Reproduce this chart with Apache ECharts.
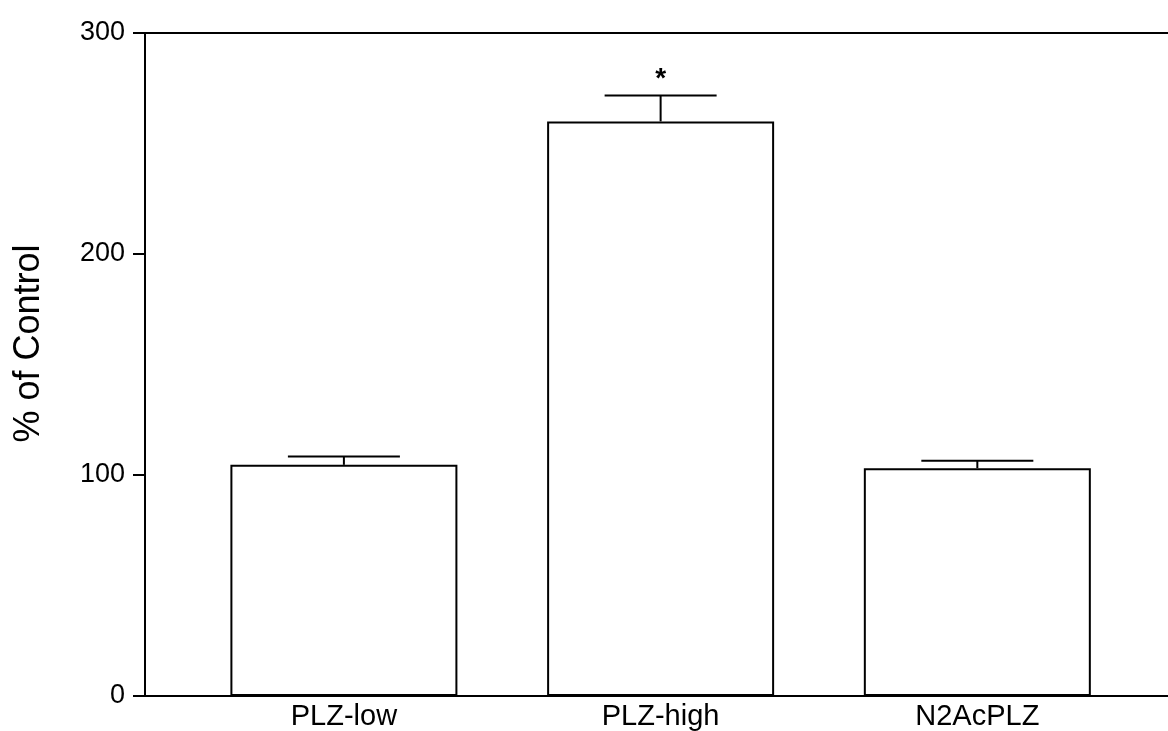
<!DOCTYPE html>
<html>
<head>
<meta charset="utf-8">
<script src="https://cdn.jsdelivr.net/npm/echarts@6/dist/echarts.min.js"></script>
<style>
  html, body { margin: 0; padding: 0; background: #fff; }
  #chart { width: 1168px; height: 731px; }
</style>
</head>
<body>
<div id="chart"></div>
<script>
// ---- data ----
const categories = ['PLZ-low', 'PLZ-high', 'N2AcPLZ'];
const values = [104.6, 260, 103.1];
const errors = [3.8, 11.7, 3.4];
const significance = ['', '*', ''];
const yTicks = [0, 100, 200, 300];
const yTitle = '% of Control';

const positions = categories.map((c, i) => i + 1);
const FONT = '"Liberation Sans", Arial, sans-serif';
const X_MIN = 0.372, X_MAX = 3.602;

const chart = echarts.init(document.getElementById('chart'), null, { renderer: 'canvas' });

const option = {
  animation: false,
  backgroundColor: '#ffffff',
  grid: { left: 145, right: 0, top: 33, bottom: 33, containLabel: false },
  xAxis: [
    {
      type: 'value',
      min: X_MIN,
      max: X_MAX,
      position: 'bottom',
      axisLine: { show: true, onZero: false, lineStyle: { color: '#000', width: 2 } },
      axisTick: { show: false },
      splitLine: { show: false },
      axisLabel: {
        customValues: positions,
        formatter: v => categories[Math.round(v) - 1] || '',
        color: '#000',
        fontFamily: FONT,
        fontSize: 29,
        margin: 6
      }
    },
    {
      type: 'value',
      min: X_MIN,
      max: X_MAX,
      position: 'top',
      axisLine: { show: true, onZero: false, lineStyle: { color: '#000', width: 2 } },
      axisTick: { show: false },
      axisLabel: { show: false },
      splitLine: { show: false }
    }
  ],
  yAxis: {
    type: 'value',
    min: yTicks[0],
    max: yTicks[yTicks.length - 1],
    interval: 100,
    axisLine: { show: true, onZero: false, lineStyle: { color: '#000', width: 2 } },
    axisTick: { show: true, inside: false, length: 12, lineStyle: { color: '#000', width: 2 } },
    splitLine: { show: false },
    axisLabel: {
      color: '#000',
      fontFamily: FONT,
      fontSize: 27,
      margin: 20,
      padding: [0, 0, 6, 0]
    },
    name: yTitle,
    nameLocation: 'middle',
    nameRotate: 90,
    nameGap: 98,
    nameTextStyle: { color: '#000', fontFamily: FONT, fontSize: 36, padding: [0, 0, 0, 42] }
  },
  series: [
    {
      type: 'bar',
      xAxisIndex: 0,
      barWidth: 227,
      data: values.map((v, i) => [positions[i], v]),
      itemStyle: { color: '#ffffff', borderColor: '#000', borderWidth: 2 },
      z: 2
    },
    {
      type: 'custom',
      xAxisIndex: 0,
      data: values.map((v, i) => [positions[i], v, v + errors[i], i]),
      renderItem: function (params, api) {
        const x = api.value(0);
        const base = api.coord([x, api.value(1)]);
        const top = api.coord([x, api.value(2)]);
        const idx = api.value(3);
        const half = 56;
        const style = { stroke: '#000', lineWidth: 2 };
        const children = [
          { type: 'line', shape: { x1: base[0], y1: base[1], x2: top[0], y2: top[1] }, style: style },
          { type: 'line', shape: { x1: top[0] - half, y1: top[1], x2: top[0] + half, y2: top[1] }, style: style }
        ];
        const sig = significance[idx];
        if (sig) {
          children.push({
            type: 'text',
            style: {
              text: sig,
              x: top[0],
              y: top[1] - 2,
              align: 'center',
              verticalAlign: 'bottom',
              fill: '#000',
              font: 'bold 28px ' + FONT
            }
          });
        }
        return { type: 'group', children: children };
      },
      z: 3
    }
  ]
};

chart.setOption(option);
</script>
</body>
</html>
